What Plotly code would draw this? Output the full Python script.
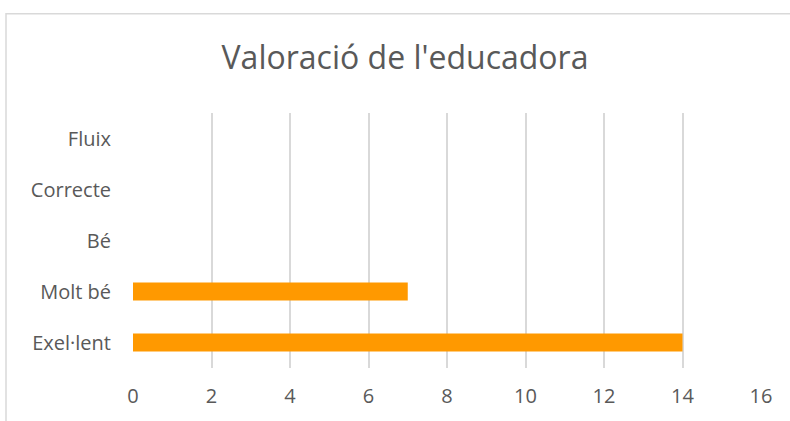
import plotly.graph_objects as go

categories = ["Exel·lent", "Molt bé", "Bé", "Correcte", "Fluix"]
values = [14, 7, 0, 0, 0]
x_ticks = [0, 2, 4, 6, 8, 10, 12, 14, 16]
title = "Valoració de l'educadora"

fig = go.Figure(go.Bar(
    y=categories, x=values, orientation="h",
    marker=dict(color="#FF9900", line=dict(width=0)),
    width=0.35,
))

fig.update_layout(
    width=790, height=421,
    margin=dict(l=133, r=29, t=113, b=51),
    paper_bgcolor="white", plot_bgcolor="white",
    title=dict(text=title, x=(405 / 790), xanchor="center", y=1 - 58 / 421, yanchor="middle",
               font=dict(family="Open Sans", size=32, color="#595959")),
    font=dict(family="Open Sans", color="#595959"),
    showlegend=False,
    xaxis=dict(range=[0, 16], tickvals=x_ticks, showgrid=True, gridcolor="#d9d9d9",
               gridwidth=1.5, zeroline=False, showline=False,
               tickfont=dict(size=20, color="#595959"), ticklabelstandoff=14),
    yaxis=dict(categoryorder="array", categoryarray=categories, showgrid=False,
               zeroline=False, showline=False,
               tickfont=dict(size=20, color="#595959"), ticklabelstandoff=21),
    shapes=[dict(type="rect", xref="paper", yref="paper",
                 x0=(6 - 133) / 628, x1=2, y0=-1, y1=1 + 100 / 257,
                 line=dict(color="#d9d9d9", width=1.5), fillcolor="rgba(0,0,0,0)",
                 layer="below")],
)

fig.write_html("out.html", config={"displayModeBar": False},
               post_script="document.body.style.margin='0';")
